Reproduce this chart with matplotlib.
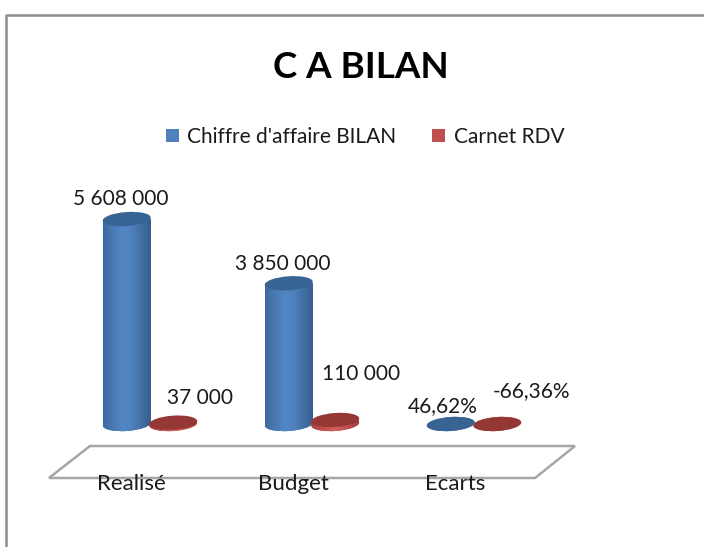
import numpy as np
import matplotlib
matplotlib.use("Agg")
import matplotlib.pyplot as plt
from matplotlib.patches import Ellipse, Patch, Polygon
from matplotlib.colors import LinearSegmentedColormap
from matplotlib.transforms import IdentityTransform

# Data
categories = ["Realisé", "Budget", "Ecarts"]
series_names = ["Chiffre d'affaire BILAN", "Carnet RDV"]
ca_bilan = [5608000, 3850000, 0.4662]
carnet_rdv = [37000, 110000, -0.6636]
ca_labels = ["5 608 000", "3 850 000", "46,62%"]
carnet_labels = ["37 000", "110 000", "-66,36%"]

W, H = 704, 547
X0, PX_PER_CAT = 150, 162      # pixel x of first category, spacing
Y0, PX_PER_UNIT = 424, 3.655e-5  # pixel y of the zero line, px per value unit
BAR_W = 48 / PX_PER_CAT
OFFSET = 23.25 / PX_PER_CAT
TILT = 4  # the end ellipses lean a bit in the 3D view

plt.rcParams["font.family"] = ["Lato", "DejaVu Sans"]

fig = plt.figure(figsize=(W / 100, H / 100), dpi=100)
ax = fig.add_axes([0, 0, 1, 1])
ax.set_xlim(-X0 / PX_PER_CAT, (W - X0) / PX_PER_CAT)
ax.set_ylim(-(H - Y0) / PX_PER_UNIT, Y0 / PX_PER_UNIT)
ax.axis("off")

# pixel helpers for the decoration (frame, floor)
px = lambda x: (x - X0) / PX_PER_CAT
py = lambda y: (Y0 - y) / PX_PER_UNIT

# frame of the chart area
ax.plot([px(6), px(6), px(704)], [py(547), py(15), py(15)], color="#8c8c8c", lw=1.8, zorder=1)

# floor of the 3D chart
floor = [(49, 478), (90, 446), (575, 446), (535, 478)]
ax.add_patch(Polygon([(px(a), py(b)) for a, b in floor], closed=True, fill=False,
                     edgecolor="#a6a6a6", lw=1.8, zorder=1))

blue_cmap = LinearSegmentedColormap.from_list(
    "blue", ["#3d6a9e", "#4a78b2", "#5286c6", "#4f81bd", "#4370a6", "#375f8e"])
red_cmap = LinearSegmentedColormap.from_list(
    "red", ["#a33f3c", "#c0504d", "#d0605c", "#c0504d", "#a33f3c"])
gradient = np.linspace(0, 1, 64).reshape(1, -1)


def end_ellipse(x, value, color, z):
    # drawn in pixels, the data axes are far too anisotropic for a tilted ellipse
    cx, cy = ax.transData.transform((x, value))
    e = Ellipse((cx, cy), 48, 14, angle=TILT, facecolor=color, edgecolor="none",
                transform=IdentityTransform(), zorder=z)
    ax.add_patch(e)
    return e


def cylinder(x, value, cmap, top_color, z):
    """bar body with horizontal gradient, plus the two end ellipses"""
    value = max(value, 0)
    base = end_ellipse(x, 0, cmap(0.5), z)
    if value > 1:
        bar = ax.bar(x, value, BAR_W, color="none", zorder=z)[0]
        im = ax.imshow(gradient, cmap=cmap, aspect="auto", zorder=z,
                       extent=(x - BAR_W / 2, x + BAR_W / 2, 0, value))
        im.set_clip_path(bar)
        low = ax.imshow(gradient, cmap=cmap, aspect="auto", zorder=z,
                        extent=(x - BAR_W / 2, x + BAR_W / 2, -8 / PX_PER_UNIT, 0))
        low.set_clip_path(base)
    end_ellipse(x, value, top_color, z + 0.1)


TEXT = "#1a1a1a"
# label shifts in px relative to the top of each cylinder
ca_shift = [(-6, 20), (-6, 19), (-8, 18)]
carnet_shift = [(27, 25), (26, 46), (34, 33)]

for i in range(len(categories)):
    cylinder(i - OFFSET, ca_bilan[i], blue_cmap, "#386494", 3)
    cylinder(i + OFFSET, carnet_rdv[i], red_cmap, "#953735", 4)
    ax.annotate(ca_labels[i], (i - OFFSET, max(ca_bilan[i], 0)), xytext=ca_shift[i],
                textcoords="offset pixels", ha="center", va="center",
                fontsize=15, color=TEXT, zorder=6)
    ax.annotate(carnet_labels[i], (i + OFFSET, max(carnet_rdv[i], 0)), xytext=carnet_shift[i],
                textcoords="offset pixels", ha="center", va="center",
                fontsize=15, color=TEXT, zorder=6)
    ax.annotate(categories[i], (i, 0), xytext=(-19, -60), textcoords="offset pixels",
                ha="center", va="center", fontsize=16, color=TEXT, zorder=6)

ax.set_xlim(-X0 / PX_PER_CAT, (W - X0) / PX_PER_CAT)
ax.set_ylim(-(H - Y0) / PX_PER_UNIT, Y0 / PX_PER_UNIT)

fig.text(361 / W, 1 - 68 / H, "C A BILAN", ha="center", va="center",
         fontsize=26.5, fontweight="bold", color="black")

handles = [Patch(facecolor="#4f81bd", label=series_names[0]),
           Patch(facecolor="#c0504d", label=series_names[1])]
fig.legend(handles=handles, loc="center", bbox_to_anchor=(365 / W, 1 - 137 / H), ncol=2,
           frameon=False, fontsize=15, handlelength=0.62, handleheight=0.62,
           handletextpad=0.4, columnspacing=1.75, labelcolor=TEXT, borderpad=0, borderaxespad=0)

fig.savefig("out.png", dpi=100)
